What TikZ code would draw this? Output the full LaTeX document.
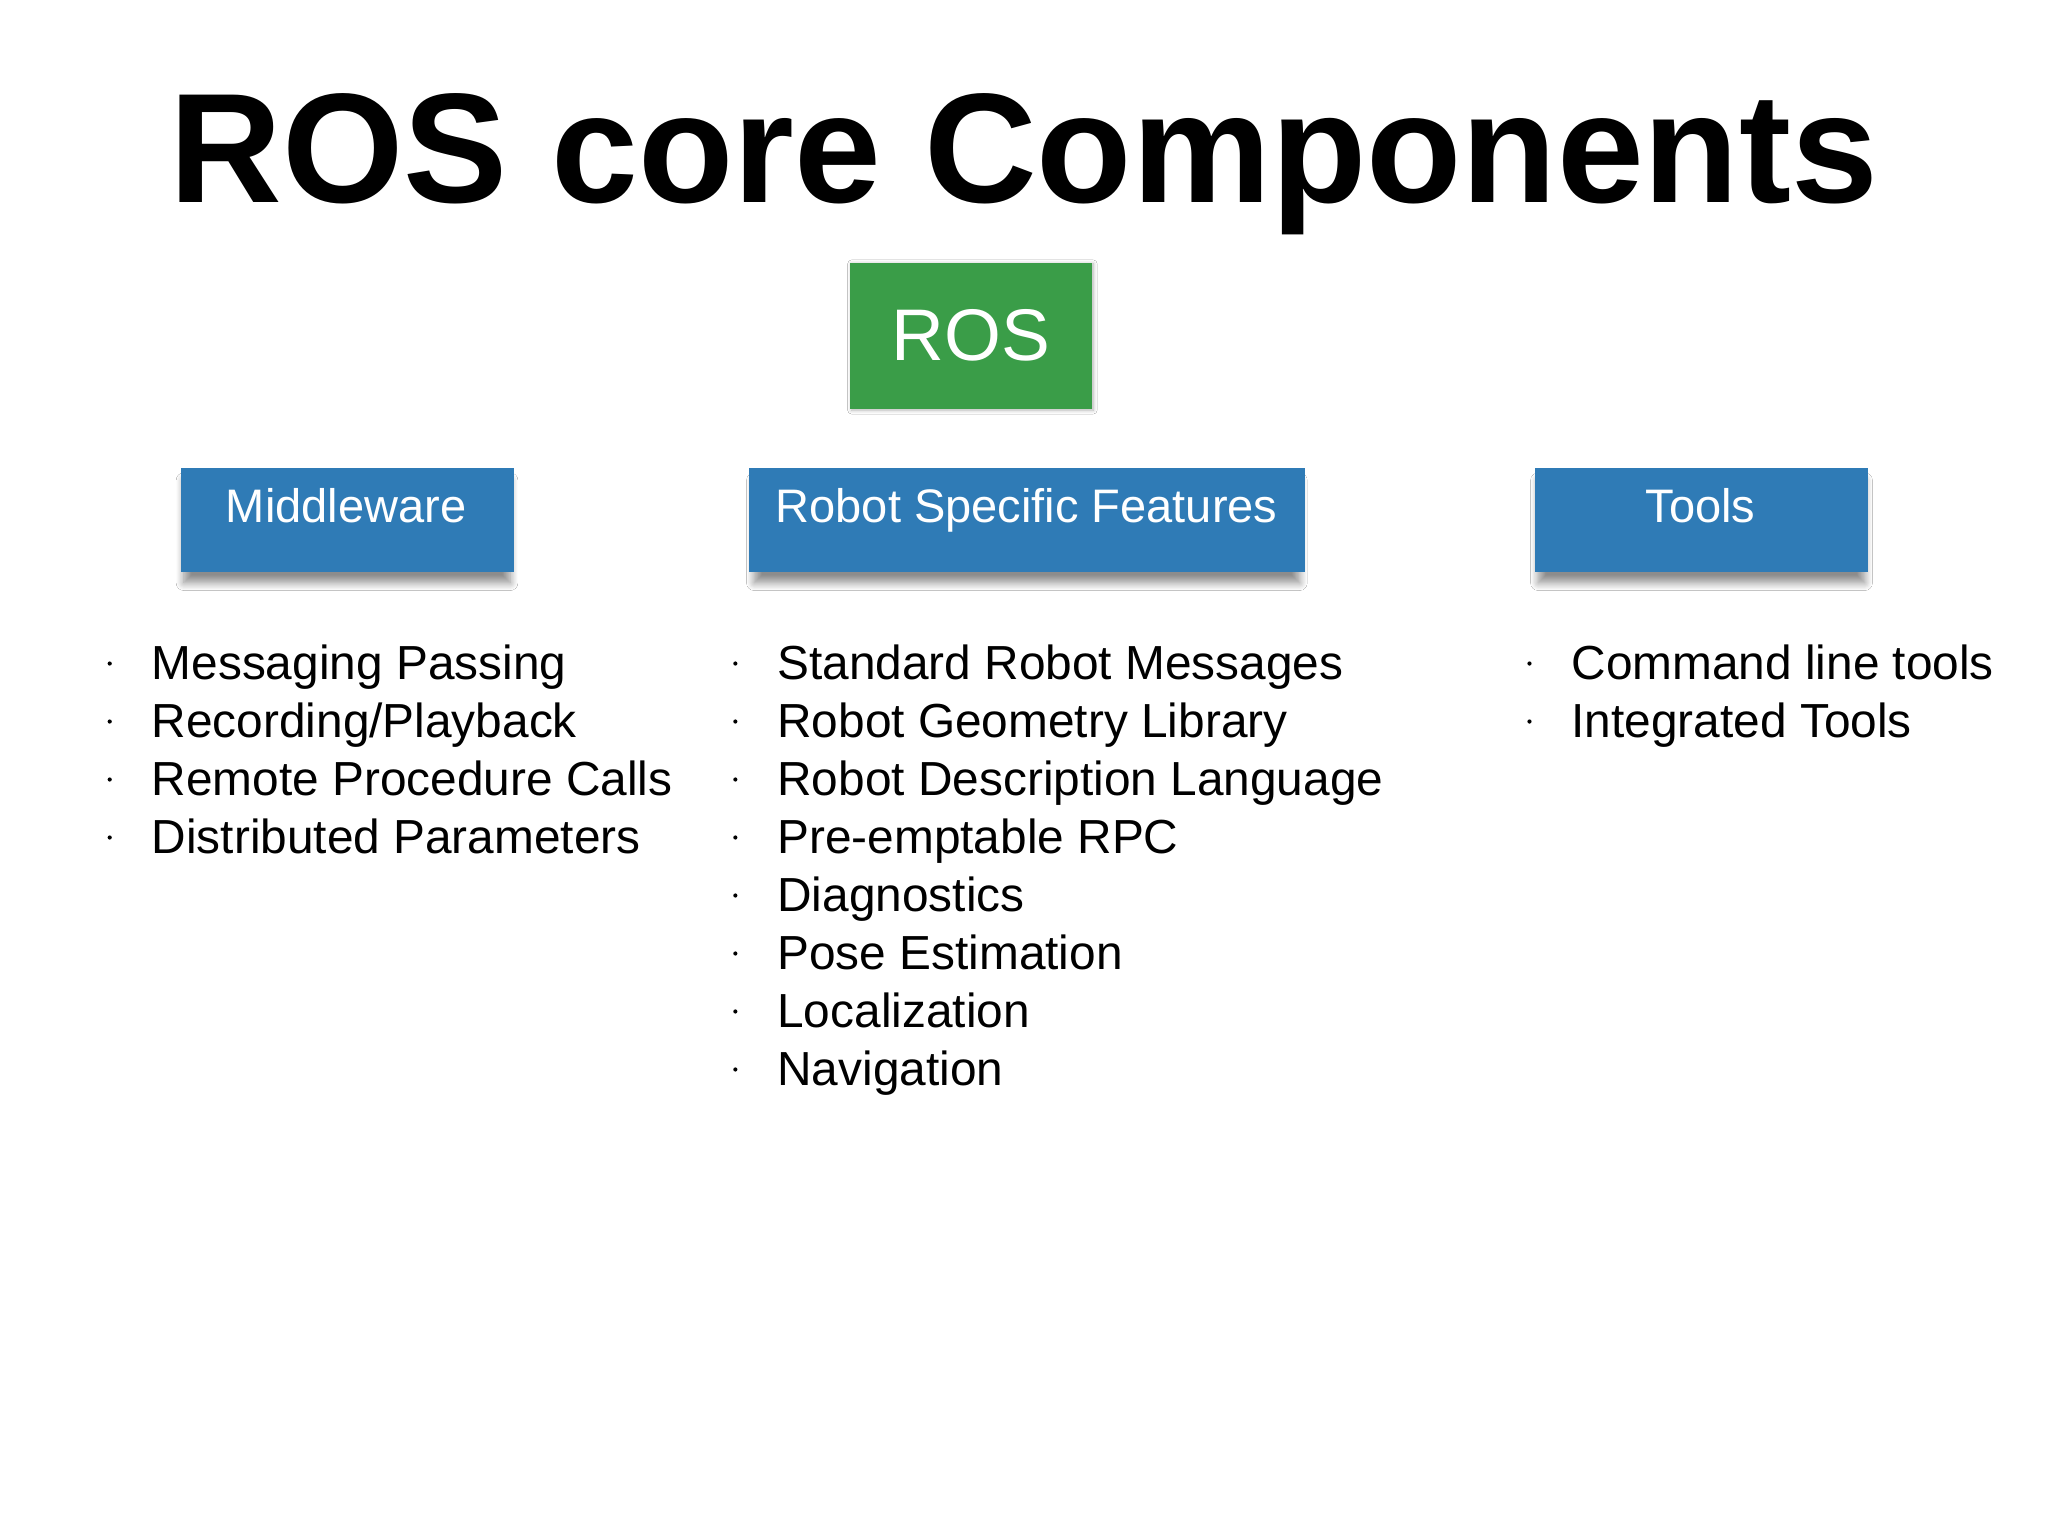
\documentclass[tikz,border=0pt]{standalone}
\usepackage{fontspec}
\setmainfont{Liberation Sans}
\usetikzlibrary{shadows.blur}
\definecolor{rosgreen}{HTML}{3A9D48}
\definecolor{rosblue}{HTML}{2F7BB6}
\tikzset{
  cat/.style={fill=rosblue, minimum height=80pt, anchor=north west, inner sep=0pt,
    blur shadow={shadow xshift=0pt, shadow yshift=-9pt, shadow blur radius=6pt, shadow blur steps=10, shadow opacity=45, shadow scale=0.98}},
  cattext/.style={anchor=base, text=white, font=\fontsize{36}{40}\selectfont},
  itm/.style={anchor=base west, font=\fontsize{36.6}{40}\selectfont, inner sep=0pt},
  bul/.style={circle, fill=black, inner sep=0pt, minimum size=3.2pt}
}
\newcommand{\blist}[3]{%
  \foreach \t [count=\i] in {#3} {
    \node[bul] (b#1\i) at (#2-32, 508+44.4*\i-44.4) {};
    \node[itm] (t#1\i) at (#2, 520+44.4*\i-44.4) {\t};
  }}
\begin{document}
\begin{tikzpicture}[x=1pt,y=-1pt]
\useasboundingbox (0,0) rectangle (1568,1176);
\fill[white] (0,0) rectangle (1568,1176);
\node[font=\fontsize{119.5}{130}\selectfont\bfseries, anchor=base, inner sep=0pt] (title) at (784,155) {ROS core Components};
\node[fill=rosgreen, minimum width=185pt, minimum height=112pt, inner sep=0pt, text=white, font=\fontsize{56}{60}\selectfont,
  blur shadow={shadow xshift=1pt, shadow yshift=-1pt, shadow blur radius=3pt, shadow blur steps=5, shadow opacity=30}] (ros) at (743.5,257) {ROS};
\node[cat, minimum width=255pt] (mw) at (138,358) {};
\node[cattext] (mwt) at (265,400) {Middleware};
\node[cat, minimum width=426pt] (rsf) at (573,358) {};
\node[cattext] (rsft) at (786,400) {Robot Specific Features};
\node[cat, minimum width=255pt] (tl) at (1175,358) {};
\node[cattext] (tlt) at (1302,400) {Tools};
\blist{a}{116}{Messaging Passing,Recording/Playback,Remote Procedure Calls,Distributed Parameters}
\blist{b}{595}{Standard Robot Messages,Robot Geometry Library,Robot Description Language,Pre-emptable RPC,Diagnostics,Pose Estimation,Localization,Navigation}
\blist{c}{1203}{Command line tools,Integrated Tools}
\end{tikzpicture}
\end{document}
